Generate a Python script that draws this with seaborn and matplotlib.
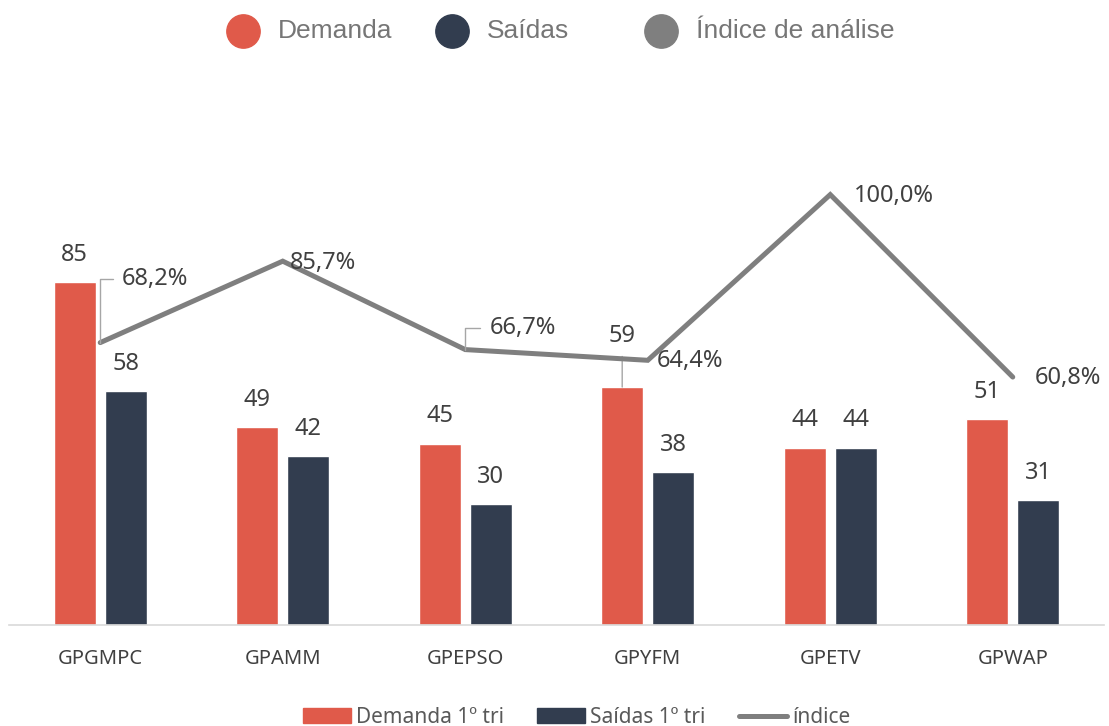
import pandas as pd
import matplotlib.pyplot as plt
import seaborn as sns
from matplotlib.lines import Line2D
from matplotlib.patches import Patch

sns.set_style("white")
plt.rcParams['font.family'] = ['Noto Sans', 'DejaVu Sans']

# dados
categorias = ["GPGMPC", "GPAMM", "GPEPSO", "GPYFM", "GPETV", "GPWAP"]
demanda = [85, 49, 45, 59, 44, 51]
saidas = [58, 42, 30, 38, 44, 31]
indice = [68.2, 85.7, 66.7, 64.4, 100.0, 60.8]

VERMELHO = "#E05A4A"
AZUL = "#323D4F"
CINZA = "#7F7F7F"
TEXTO = "#404040"

df = pd.DataFrame({
    "cat": categorias * 2,
    "serie": ["Demanda 1º tri"] * 6 + ["Saídas 1º tri"] * 6,
    "valor": demanda + saidas,
})
df_ind = pd.DataFrame({"pos": range(len(categorias)), "indice": indice})

fig = plt.figure(figsize=(11.09, 7.26), dpi=100)
ax = fig.add_axes([0.0081, 0.1391, 0.9874, 0.6956])

sns.barplot(data=df, x="cat", y="valor", hue="serie",
            palette=[VERMELHO, AZUL], saturation=1,
            width=0.56, gap=0.18, legend=False, ax=ax)
ax.set_ylim(0, 125.2)
ax.set_xlim(-0.5, 5.5)

# rótulos das barras (o 59 sobe acima da linha com guia)
for cont in ax.containers:
    for bar in cont:
        x = bar.get_x() + bar.get_width() / 2
        h = bar.get_height()
        if h == 59:
            ax.annotate(f"{h:.0f}", (x, h), xytext=(0, 37), textcoords="offset points",
                        ha="center", va="center", fontsize=17, color=TEXTO,
                        arrowprops=dict(arrowstyle="-", color="#A6A6A6", lw=1,
                                        shrinkA=4, shrinkB=0))
        else:
            ax.annotate(f"{h:.0f}", (x, h), xytext=(0, 19.5), textcoords="offset points",
                        ha="center", va="center", fontsize=17, color=TEXTO)

ax2 = ax.twinx()
sns.lineplot(data=df_ind, x="pos", y="indice", color=CINZA, linewidth=3.6,
             sort=False, ax=ax2, legend=False)
ax2.lines[0].set_solid_capstyle("round")
ax2.lines[0].set_solid_joinstyle("miter")
ax2.set_ylim(7.52, 116.03)

# deslocamentos dos rótulos de percentual (pt)
offs = [(15.8, 46), (5, -1.5), (17.3, 15.8), (6.5, -0.7), (17.3, -0.7), (15.8, -0.7)]
guia = [True, False, True, False, False, False]
for i, v in enumerate(indice):
    txt = f"{v:.1f}%".replace(".", ",")
    if guia[i]:
        ax2.annotate(txt, (i, v), xytext=offs[i], textcoords="offset points",
                     ha="left", va="center", fontsize=17, color=TEXTO,
                     arrowprops=dict(arrowstyle="-", color="#A6A6A6", lw=1,
                                     relpos=(0, 0.5), shrinkA=4, shrinkB=0,
                                     connectionstyle="angle,angleA=0,angleB=90,rad=0"))
    else:
        ax2.annotate(txt, (i, v), xytext=offs[i], textcoords="offset points",
                     ha="left", va="center", fontsize=17, color=TEXTO)

for a in (ax, ax2):
    a.set_xlabel("")
    a.set_ylabel("")
    a.set_yticks([])
    for s in ["top", "left", "right"]:
        a.spines[s].set_visible(False)
ax2.spines["bottom"].set_visible(False)
ax.spines["bottom"].set_color("#D9D9D9")
ax.spines["bottom"].set_linewidth(1.2)
ax.tick_params(axis="x", length=0, pad=17, labelsize=14.5, labelcolor=TEXTO)

# legenda de cima (círculos)
topo_x = [243, 452, 661]
topo_lbl = ["Demanda", "Saídas", "Índice de análise"]
topo_cor = [VERMELHO, AZUL, CINZA]
for x, lbl, c in zip(topo_x, topo_lbl, topo_cor):
    fig.add_artist(Line2D([x / 1109], [1 - 31 / 726], marker="o", markersize=24,
                          color=c, linestyle="none", transform=fig.transFigure))
    fig.text((x + 35) / 1109, 1 - 31 / 726, lbl, ha="left", va="center",
             fontsize=19, color="#767676", family="Liberation Sans")

# legenda de baixo
hand = [Patch(color=VERMELHO, label="Demanda 1º tri"),
        Patch(color=AZUL, label="Saídas 1º tri"),
        Line2D([0], [0], color=CINZA, lw=3.6, solid_capstyle="round", label="índice")]
fig.legend(handles=hand, loc="center", bbox_to_anchor=(0.52, 0.012), ncol=3,
           frameon=False, fontsize=15, handlelength=2.3, handleheight=0.67,
           handletextpad=0.25, columnspacing=1.6, labelcolor="#595959")

fig.savefig("out.png", dpi=100)
